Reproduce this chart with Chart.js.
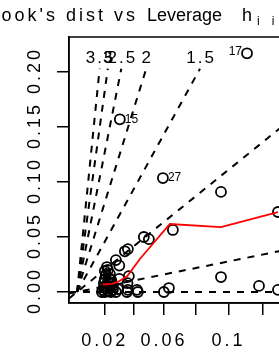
<!DOCTYPE html>
<html>
<head>
<meta charset="utf-8">
<title>Cook's dist vs Leverage</title>
<script src="https://cdn.jsdelivr.net/npm/chart.js"></script>
<style>
	html, body { margin: 0; padding: 0; overflow: hidden; background: #fff; }
	#wrap { width: 300px; height: 353px; }
</style>
</head>
<body>
<div id="wrap"><canvas id="chart" width="300" height="353"></canvas></div>
<script>
	// x = h/(1-h), y = Cook's distance. first three are the labelled observations
	const pointIds = ['17', '15', '27'];
	const levRatio = [0.1247, 0.0314, 0.063, 0.1056, 0.1474, 0.0703, 0.049, 0.0527, 0.0351, 0.0373,
		0.0285, 0.031, 0.038, 0.031, 0.1056, 0.1335, 0.1474, 0.0674, 0.0637, 0.0446,
		0.0366, 0.0373, 0.037, 0.044,
		0.0189, 0.0204, 0.0226, 0.0248, 0.0263, 0.0197, 0.0219, 0.0241, 0.0263, 0.0197,
		0.0226, 0.0256, 0.0204, 0.0233, 0.0211, 0.0241, 0.0204, 0.0226, 0.0219, 0.0285,
		0.0300, 0.0182, 0.0215, 0.0250];
	const cookDist = [0.217, 0.157, 0.1036, 0.091, 0.0727, 0.0564, 0.050, 0.048, 0.037, 0.039,
		0.029, 0.024, 0.0145, 0.012, 0.0136, 0.0055, 0.002, 0.0036, 0.0, 0.0,
		0.0, 0.002, 0.008, 0.002,
		0.0018, 0.0, 0.0009, 0.0, 0.0018, 0.0045, 0.0055, 0.0045, 0.0055, 0.0082,
		0.0091, 0.0082, 0.0118, 0.0127, 0.0155, 0.0164, 0.0191, 0.0200, 0.0227, 0.0,
		0.0027, 0.0, 0.0030, 0.0110];

	// red smoother
	const smoothX = [0.0189, 0.0256, 0.0300, 0.0369, 0.0461, 0.0681, 0.1056, 0.1474];
	const smoothY = [0.0068, 0.0073, 0.0091, 0.0145, 0.030, 0.0618, 0.059, 0.0727];

	// standardized residual levels of the dashed contours (p = 1)
	const contourLevels = [0, 0.5, 1, 1.5, 2, 2.5, 3, 3.5];

	const xTickLev = [0.02, 0.04, 0.06, 0.08, 0.1, 0.12];
	const xTickText = ['0.02', '', '0.06', '', '0.1', ''];
	const yTicks = [0, 0.05, 0.1, 0.15, 0.2];
	const yTickText = ['0.00', '0.05', '0.10', '0.15', '0.20'];

	const X_MIN = -0.0059, X_MAX = 0.1533;
	const Y_MIN = -0.01, Y_MAX = 0.2318;
	const TOP = 0.203;
	const FONT = '"Liberation Sans", Arial, sans-serif';

	const contourSets = contourLevels.map(b => {
		const s = b * b;
		const toTop = s * X_MAX >= Y_MAX;
		const pts = toTop
			? [{x: 0, y: 0}, {x: TOP / s, y: TOP}]
			: [{x: X_MIN, y: s * X_MIN}, {x: X_MAX, y: s * X_MAX}];
		return {
			data: pts, showLine: true, borderColor: '#000', borderWidth: 2,
			borderDash: [7, 7], pointRadius: 0, order: 2
		};
	});

	const extras = {
		id: 'extras',
		beforeDraw(chart) {
			chart.ctx.letterSpacing = '3px';
		},
		afterDraw(chart) {
			const {ctx, chartArea: a, scales: {x, y}} = chart;
			ctx.save();
			ctx.strokeStyle = '#000';
			ctx.lineWidth = 1.5;
			ctx.strokeRect(a.left, a.top, a.right - a.left, a.bottom - a.top);

			ctx.fillStyle = '#000';
			// title
			ctx.font = '18px ' + FONT;
			ctx.textBaseline = 'alphabetic';
			ctx.letterSpacing = '3px';
			ctx.textAlign = 'right';
			ctx.fillText("Cook's dist vs", 138, 21);
			ctx.letterSpacing = '0px';
			ctx.textAlign = 'left';
			ctx.fillText('Leverage', 147, 21);
			ctx.fillText('h', 242, 21);
			ctx.font = '12px ' + FONT;
			ctx.letterSpacing = '12px';
			ctx.fillText('ii', 257, 25);
			ctx.letterSpacing = '0px';
			ctx.font = '18px ' + FONT;
			ctx.fillText('/(1 - h', 284, 21);

			// y tick labels, rotated
			ctx.font = '18px ' + FONT;
			ctx.letterSpacing = '3px';
			ctx.textAlign = 'center';
			ctx.textBaseline = 'middle';
			yTicks.forEach((v, i) => {
				ctx.save();
				ctx.translate(35, y.getPixelForValue(v) - 1.5);
				ctx.rotate(-Math.PI / 2);
				ctx.fillText(yTickText[i], 0, 0);
				ctx.restore();
			});

			// contour labels along the top
			ctx.font = '17px ' + FONT;
			ctx.letterSpacing = '2px';
			ctx.textBaseline = 'alphabetic';
			contourLevels.forEach(b => {
				const s = b * b;
				if (s * X_MAX < Y_MAX) return;
				ctx.fillText(String(b), x.getPixelForValue(TOP / s) + 1, y.getPixelForValue(TOP) - 6);
			});

			// point ids
			ctx.font = '12px ' + FONT;
			ctx.letterSpacing = '0px';
			ctx.textBaseline = 'middle';
			pointIds.forEach((id, i) => {
				const px = x.getPixelForValue(levRatio[i]);
				const py = y.getPixelForValue(cookDist[i]);
				if (i === 0) {
					ctx.textAlign = 'right';
					ctx.fillText(id, px - 5, py - 2);
				} else {
					ctx.textAlign = 'left';
					ctx.fillText(id, px + 5, py);
				}
			});
			ctx.restore();
		}
	};

	new Chart(document.getElementById('chart'), {
		type: 'scatter',
		data: {
			datasets: [
				{
					data: smoothX.map((v, i) => ({x: v, y: smoothY[i]})),
					showLine: true, borderColor: '#ff0000', borderWidth: 1.8,
					pointRadius: 0, order: 0
				},
				...contourSets,
				{
					data: levRatio.map((v, i) => ({x: v, y: cookDist[i]})),
					pointRadius: 5, pointBorderWidth: 1.8, borderColor: '#000',
					backgroundColor: 'rgba(0,0,0,0)', order: 3
				}
			]
		},
		options: {
			responsive: false,
			animation: false,
			events: [],
			layout: { padding: { left: 0, top: 37, right: 14, bottom: 0 } },
			plugins: { legend: { display: false }, tooltip: { enabled: false }, title: { display: false } },
			scales: {
				x: {
					type: 'linear', min: X_MIN, max: X_MAX,
					afterBuildTicks: s => { s.ticks = xTickLev.map(h => ({value: h / (1 - h)})); },
					afterFit: s => { s.height = 50; },
					ticks: {
						callback: (v, i) => xTickText[i],
						autoSkip: false, maxRotation: 0, padding: 15,
						color: '#000', font: { size: 18, family: FONT }
					},
					grid: { drawOnChartArea: false, drawTicks: true, tickLength: 12, color: '#000', lineWidth: 1.5 },
					border: { display: true, color: '#000', width: 1.5 }
				},
				y: {
					type: 'linear', min: Y_MIN, max: Y_MAX,
					afterBuildTicks: s => { s.ticks = yTicks.map(v => ({value: v})); },
					afterFit: s => { s.width = 69; },
					ticks: { display: false },
					grid: { drawOnChartArea: false, drawTicks: true, tickLength: 12, color: '#000', lineWidth: 1.5 },
					border: { display: true, color: '#000', width: 1.5 }
				}
			}
		},
		plugins: [extras]
	});
</script>
</body>
</html>
